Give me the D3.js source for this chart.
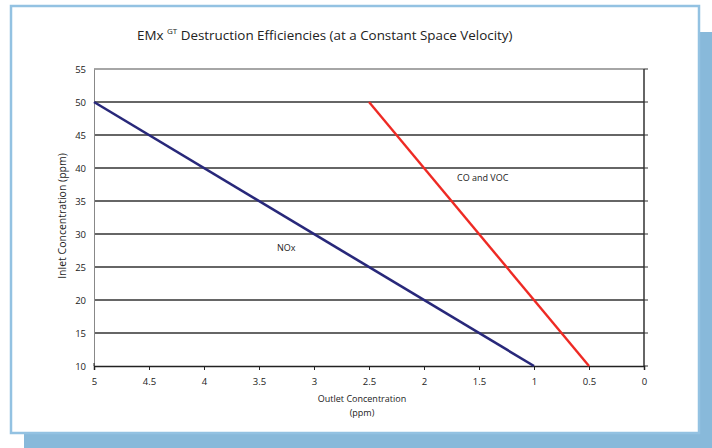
<!DOCTYPE html>
<html>
<head>
<meta charset="utf-8">
<script src="https://cdn.jsdelivr.net/npm/d3@7"></script>
<style>
  body { margin:0; background:#fff; }
  text { font-family: "Open Sans", sans-serif; fill:#222; }
</style>
</head>
<body>
<svg id="chart" width="712" height="448"></svg>
<script>
// data
var xTicks = [5, 4.5, 4, 3.5, 3, 2.5, 2, 1.5, 1, 0.5, 0];
var yTicks = [10, 15, 20, 25, 30, 35, 40, 45, 50, 55];
var noxOutlet = [5, 1];
var noxInlet = [50, 10];
var coOutlet = [2.5, 0.5];
var coInlet = [50, 10];

var svg = d3.select("#chart");

// frame + shadow
svg.append("rect").attr("x", 24).attr("y", 32).attr("width", 688).attr("height", 416).attr("fill", "#88b9da");
svg.append("rect").attr("x", 11).attr("y", 6).attr("width", 688).attr("height", 427)
  .attr("fill", "#fff").attr("stroke", "#93c2e2").attr("stroke-width", 2.5);

var margins = {left:94, right:644, top:69, bottom:366};
var x = d3.scaleLinear().domain([5, 0]).range([margins.left, margins.right]);
var y = d3.scaleLinear().domain([10, 55]).range([margins.bottom, margins.top]);

// gridlines
svg.append("g").selectAll("line").data(yTicks.filter(function(d){return d > 10;}))
  .enter().append("line")
  .attr("x1", x(5)).attr("x2", x(0))
  .attr("y1", function(d){return y(d);}).attr("y2", function(d){return y(d);})
  .style("stroke", function(d){return d == 55 ? "#888" : "#333";})
  .style("stroke-width", 1.3);

// right border with ticks
svg.append("line").attr("x1", x(0)).attr("x2", x(0)).attr("y1", y(55)).attr("y2", y(10))
  .style("stroke", "#333").style("stroke-width", 1.5);
svg.append("g").selectAll("line").data(yTicks).enter().append("line")
  .attr("x1", x(0)).attr("x2", x(0) + 4)
  .attr("y1", function(d){return y(d);}).attr("y2", function(d){return y(d);})
  .style("stroke", "#333");

// left axis
var yAxis = d3.axisLeft(y).tickValues(yTicks).tickSize(0).tickPadding(8);
var gy = svg.append("g").attr("transform", "translate(" + x(5) + ",0)").call(yAxis);
gy.select(".domain").style("stroke", "#888");
gy.selectAll("text").style("font-size", "9.5px").style("fill", "#222");

// bottom axis
var xAxis = d3.axisBottom(x).tickValues(xTicks).tickSize(4).tickPadding(8)
  .tickFormat(function(d){return d;});
var gx = svg.append("g").attr("transform", "translate(0," + y(10) + ")").call(xAxis);
gx.select(".domain").style("stroke", "#222").style("stroke-width", 1.5);
gx.selectAll(".tick line").style("stroke", "#222");
gx.selectAll("text").style("font-size", "9.5px").style("fill", "#222");
svg.append("line").attr("x1", x(5)).attr("x2", x(5)).attr("y1", y(10) - 3).attr("y2", y(10))
  .style("stroke", "#222");

// series
var line = d3.line().x(function(d){return x(d[0]);}).y(function(d){return y(d[1]);});
svg.append("path").attr("d", line(d3.zip(noxOutlet, noxInlet)))
  .attr("fill", "none").attr("stroke", "#28287a").attr("stroke-width", 2.6);
svg.append("path").attr("d", line(d3.zip(coOutlet, coInlet)))
  .attr("fill", "none").attr("stroke", "#ee2a24").attr("stroke-width", 2.4);

// labels
svg.append("text").attr("x", 277).attr("y", 251).style("font-size", "9px").text("NOx");
svg.append("text").attr("x", 457).attr("y", 181).style("font-size", "9px").text("CO and VOC");

// titles
var title = svg.append("text").attr("x", 137).attr("y", 40).style("font-size", "13.4px");
title.append("tspan").text("EMx ");
title.append("tspan").attr("dy", -6).style("font-size", "8px").text("GT");
title.append("tspan").attr("dy", 6).text(" Destruction Efficiencies (at a Constant Space Velocity)");

svg.append("text").attr("x", 362).attr("y", 402).attr("text-anchor", "middle")
  .style("font-size", "9px").text("Outlet Concentration");
svg.append("text").attr("x", 362).attr("y", 416).attr("text-anchor", "middle")
  .style("font-size", "9px").text("(ppm)");
svg.append("text").attr("transform", "translate(66,216) rotate(-90)").attr("text-anchor", "middle")
  .style("font-size", "10.5px").text("Inlet Concentration (ppm)");
</script>
</body>
</html>
